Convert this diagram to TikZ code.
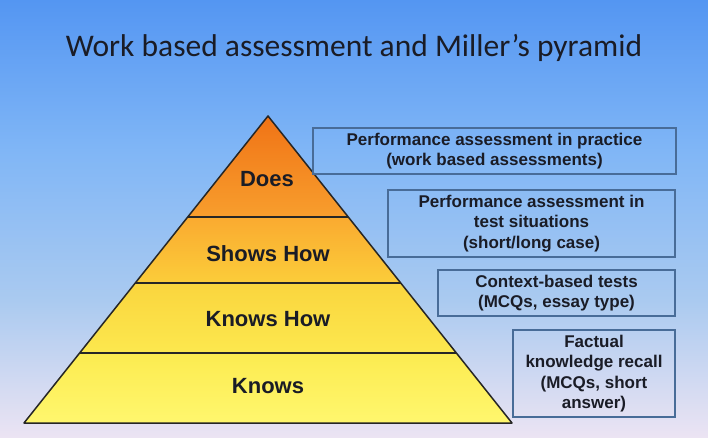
\documentclass[tikz,border=0pt]{standalone}
\usepackage{fontspec}
\setmainfont{Liberation Sans}
\newfontfamily\titlefont{Carlito}
\definecolor{bgA}{RGB}{84,150,242}
\definecolor{bgB}{RGB}{128,182,246}
\definecolor{bgC}{RGB}{170,202,240}
\definecolor{bgD}{RGB}{236,228,243}
\definecolor{txt}{RGB}{26,28,38}
\definecolor{boxline}{RGB}{72,108,152}
\definecolor{oA}{RGB}{240,115,22}
\definecolor{oB}{RGB}{248,158,45}
\definecolor{oC}{RGB}{250,170,48}
\definecolor{oD}{RGB}{251,205,58}
\definecolor{yA}{RGB}{250,213,62}
\definecolor{yB}{RGB}{252,232,78}
\definecolor{yC}{RGB}{252,235,80}
\definecolor{yD}{RGB}{255,247,110}
\tikzset{
  band/.style={shade, draw=none},
  divider/.style={draw=black!85, line width=1.4pt},
  outline/.style={draw=black!85, line width=1.5pt, line join=round},
  level/.style={font=\fontsize{22}{26}\selectfont\bfseries, text=txt, anchor=base, inner sep=0pt},
  infobox/.style={draw=boxline, line width=1.3pt, inner sep=0pt, align=center, text=txt,
    font=\fontsize{17}{20.5}\selectfont\bfseries},
  title/.style={font=\titlefont\fontsize{31.5}{36}\selectfont, text=txt, anchor=base, inner sep=0pt}
}
\begin{document}
\begin{tikzpicture}[x=1pt,y=-1pt]
\useasboundingbox (0,0) rectangle (708,438);
% background
\shade[top color=bgA, bottom color=bgB] (0,0) rectangle (708,150.5);
\shade[top color=bgB, bottom color=bgC] (0,150) rectangle (708,300.5);
\shade[top color=bgC, bottom color=bgD] (0,300) rectangle (708,438);
% title
\node[title] (title) at (354,57) {Work based assessment and Miller’s pyramid};
% pyramid corner points
\coordinate (apex) at (268,116);
\coordinate (bl) at (24,423);
\coordinate (br) at (512,423);
\coordinate (l1) at (187.7,217); \coordinate (r1) at (348.3,217);
\coordinate (l2) at (135.3,283); \coordinate (r2) at (400.7,283);
\coordinate (l3) at (79.6,353); \coordinate (r3) at (456.4,353);
% bands
\path[band, top color=oA, bottom color=oB] (apex) -- (r1) -- (l1) -- cycle;
\path[band, top color=oC, bottom color=oD] (l1) -- (r1) -- (r2) -- (l2) -- cycle;
\path[band, top color=yA, bottom color=yB] (l2) -- (r2) -- (r3) -- (l3) -- cycle;
\path[band, top color=yC, bottom color=yD] (l3) -- (r3) -- (br) -- (bl) -- cycle;
\draw[divider] (l1) -- (r1);
\draw[divider] (l2) -- (r2);
\draw[divider] (l3) -- (r3);
\draw[outline] (apex) -- (br) -- (bl) -- cycle;
% level labels
\node[level] (does) at (267,187) {Does};
\node[level] (shows) at (268,261) {Shows How};
\node[level] (knowshow) at (268,326) {Knows How};
\node[level] (knows) at (268,393) {Knows};
% boxes
\node[infobox, minimum width=363pt, minimum height=46pt] (b1) at (494.5,151)
  {Performance assessment in practice\\(work based assessments)};
\node[infobox, minimum width=287pt, minimum height=67pt] (b2) at (531.5,223.5)
  {Performance assessment in\\test situations\\(short/long case)};
\node[infobox, minimum width=237pt, minimum height=46pt] (b3) at (556.5,293)
  {Context-based tests\\(MCQs, essay type)};
\node[infobox, minimum width=162pt, minimum height=87pt] (b4) at (594,373.5)
  {Factual\\knowledge recall\\(MCQs, short\\answer)};
\end{tikzpicture}
\end{document}
